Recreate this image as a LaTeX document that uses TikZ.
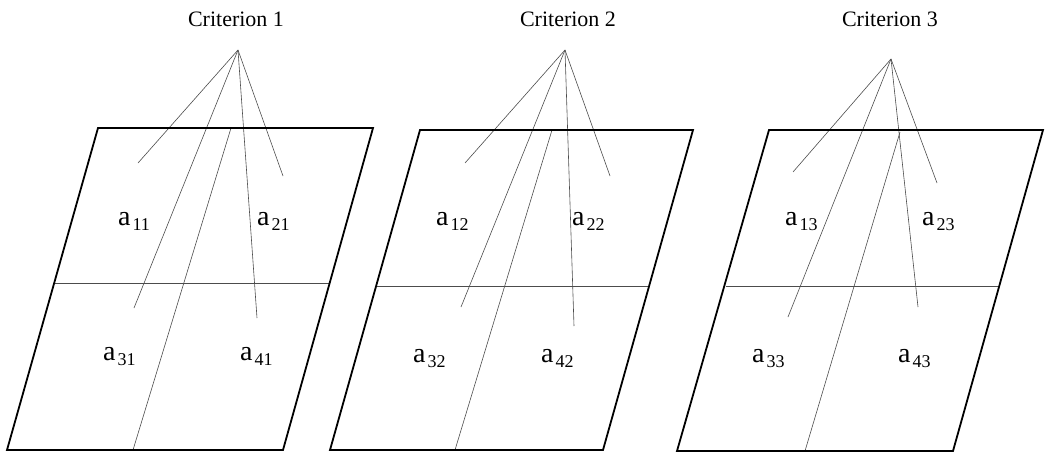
\documentclass[tikz,border=0pt]{standalone}
\usepackage{fontspec}
\setmainfont{Liberation Serif}
\usepackage{tikz}

\newcommand{\aval}[1]{a\kern2pt\raisebox{-5pt}{\fontsize{18}{20}\selectfont #1}}

\tikzset{
  frame/.style={line width=1.8pt, line join=miter},
  thin/.style={line width=0.6pt, black!70},
  title/.style={anchor=base, inner sep=0pt, font=\fontsize{22}{26}\selectfont},
  cell/.style={anchor=base west, inner sep=0pt, font=\fontsize{28}{32}\selectfont}
}

\begin{document}
\begin{tikzpicture}[x=1pt, y=-1pt]
    \useasboundingbox (0,0) rectangle (1045,453);

    % criterion 1
    \coordinate (p1a) at (98,128);  \coordinate (p1b) at (373,128);
    \coordinate (p1c) at (283,450); \coordinate (p1d) at (7,450);
    \coordinate (m1l) at (54,283);  \coordinate (m1r) at (330,283);
    \coordinate (d1t) at (231,128); \coordinate (d1b) at (133,450);
    \coordinate (c1) at (238,50);
    \coordinate (e1a) at (138,163); \coordinate (e1b) at (134,308);
    \coordinate (e1c) at (257,318); \coordinate (e1d) at (283,176);
    \node[title] (crit1) at (236,26) {Criterion 1};
    \draw[thin] (m1l) -- (m1r);
    \draw[thin] (d1t) -- (d1b);
    \draw[thin] (c1) -- (e1a);
    \draw[thin] (c1) -- (e1b);
    \draw[thin] (c1) -- (e1c);
    \draw[thin] (c1) -- (e1d);
    \draw[frame] (p1a) -- (p1b) -- (p1c) -- (p1d) -- cycle;
    \node[cell] (a11) at (118,225) {\aval{11}};
    \node[cell] (a21) at (257,225) {\aval{21}};
    \node[cell] (a31) at (103,360) {\aval{31}};
    \node[cell] (a41) at (240,360) {\aval{41}};

    % criterion 2
    \coordinate (p2a) at (420,130); \coordinate (p2b) at (693,130);
    \coordinate (p2c) at (603,450); \coordinate (p2d) at (330,450);
    \coordinate (m2l) at (377,286); \coordinate (m2r) at (650,286);
    \coordinate (d2t) at (552,130); \coordinate (d2b) at (455,450);
    \coordinate (c2) at (565,50);
    \coordinate (e2a) at (465,163); \coordinate (e2b) at (461,307);
    \coordinate (e2c) at (574,326); \coordinate (e2d) at (610,176);
    \node[title] (crit2) at (568,26) {Criterion 2};
    \draw[thin] (m2l) -- (m2r);
    \draw[thin] (d2t) -- (d2b);
    \draw[thin] (c2) -- (e2a);
    \draw[thin] (c2) -- (e2b);
    \draw[thin] (c2) -- (e2c);
    \draw[thin] (c2) -- (e2d);
    \draw[frame] (p2a) -- (p2b) -- (p2c) -- (p2d) -- cycle;
    \node[cell] (a12) at (436,225) {\aval{12}};
    \node[cell] (a22) at (572,225) {\aval{22}};
    \node[cell] (a32) at (413,362) {\aval{32}};
    \node[cell] (a42) at (541,362) {\aval{42}};

    % criterion 3
    \coordinate (p3a) at (769,130);  \coordinate (p3b) at (1043,130);
    \coordinate (p3c) at (953,451);  \coordinate (p3d) at (677,451);
    \coordinate (m3l) at (726,286);  \coordinate (m3r) at (1000,286);
    \coordinate (d3t) at (900,132);  \coordinate (d3b) at (805,451);
    \coordinate (c3) at (891,59);
    \coordinate (e3a) at (793,172); \coordinate (e3b) at (788,317);
    \coordinate (e3c) at (918,307); \coordinate (e3d) at (937,183);
    \node[title] (crit3) at (890,26) {Criterion 3};
    \draw[thin] (m3l) -- (m3r);
    \draw[thin] (d3t) -- (d3b);
    \draw[thin] (c3) -- (e3a);
    \draw[thin] (c3) -- (e3b);
    \draw[thin] (c3) -- (e3c);
    \draw[thin] (c3) -- (e3d);
    \draw[frame] (p3a) -- (p3b) -- (p3c) -- (p3d) -- cycle;
    \node[cell] (a13) at (785,225) {\aval{13}};
    \node[cell] (a23) at (922,225) {\aval{23}};
    \node[cell] (a33) at (752,362) {\aval{33}};
    \node[cell] (a43) at (898,362) {\aval{43}};
\end{tikzpicture}
\end{document}
